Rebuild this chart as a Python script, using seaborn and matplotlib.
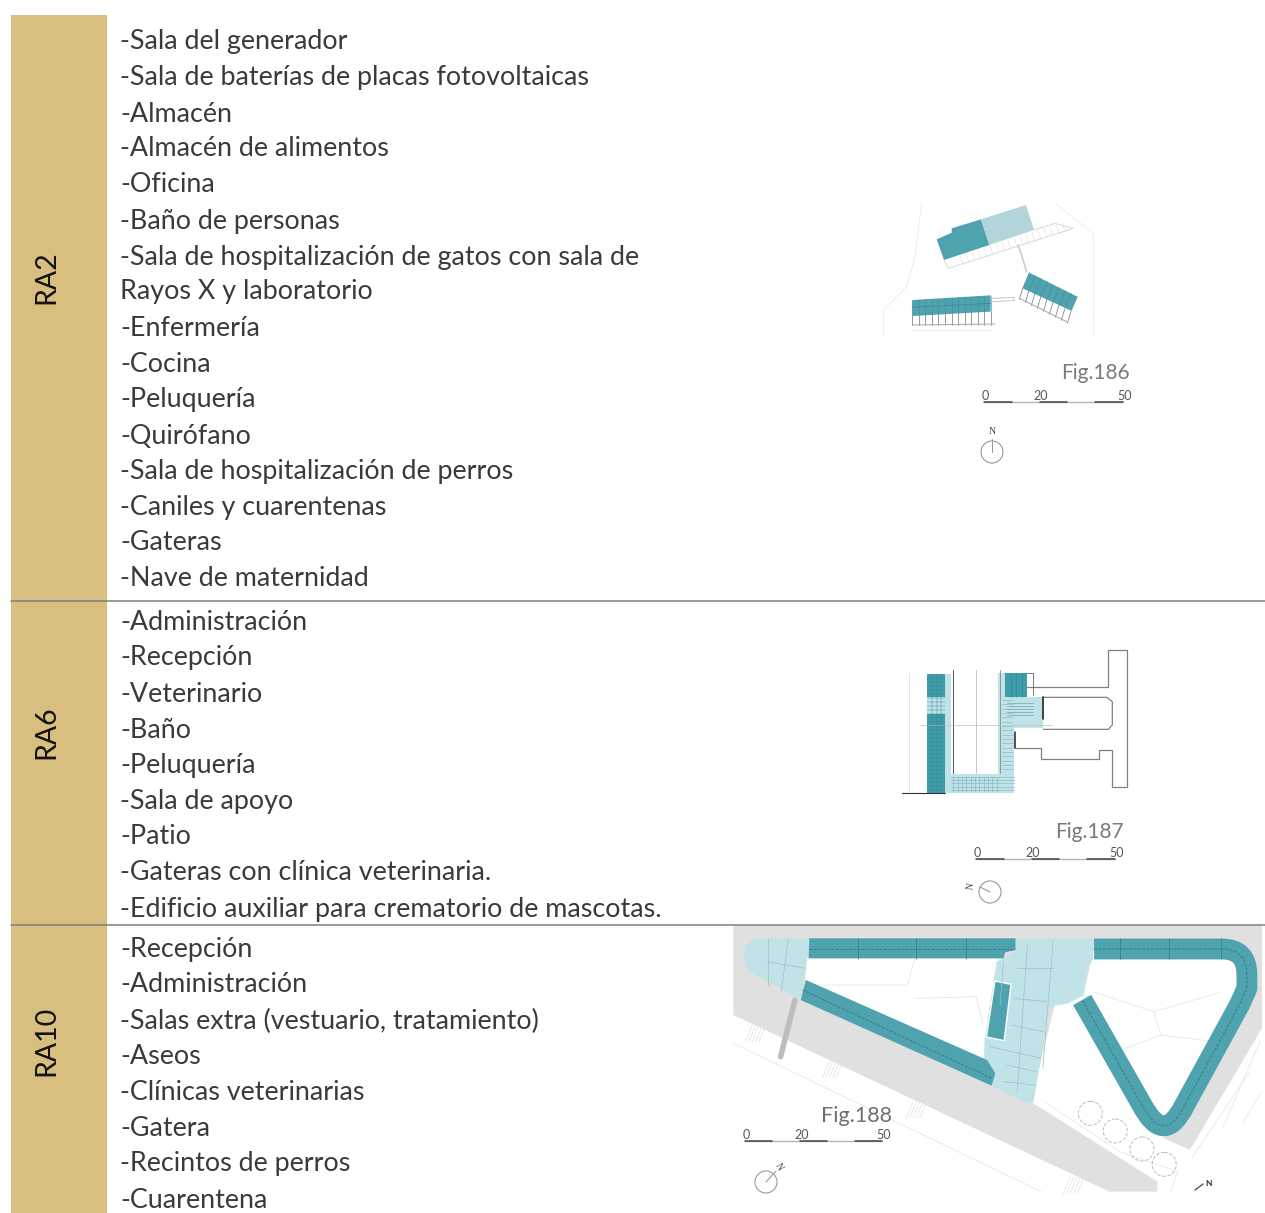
import matplotlib
matplotlib.use('Agg')
import matplotlib.pyplot as plt
import seaborn as sns
import pandas as pd
from matplotlib.patches import Polygon, Circle, Rectangle, PathPatch
from matplotlib.path import Path

# filas de la tabla
row_labels = ['RA2', 'RA6', 'RA10']
ra2_items = ['-Sala del generador', '-Sala de baterías de placas fotovoltaicas', '-Almacén',
             '-Almacén de alimentos', '-Oficina', '-Baño de personas',
             '-Sala de hospitalización de gatos con sala de', 'Rayos X y laboratorio',
             '-Enfermería', '-Cocina', '-Peluquería', '-Quirófano',
             '-Sala de hospitalización de perros', '-Caniles y cuarentenas', '-Gateras',
             '-Nave de maternidad']
ra6_items = ['-Administración', '-Recepción', '-Veterinario', '-Baño', '-Peluquería',
             '-Sala de apoyo', '-Patio', '-Gateras con clínica veterinaria.',
             '-Edificio auxiliar para crematorio de mascotas.']
ra10_items = ['-Recepción', '-Administración', '-Salas extra (vestuario, tratamiento)', '-Aseos',
              '-Clínicas veterinarias', '-Gatera', '-Recintos de perros', '-Cuarentena']
fig_labels = ['Fig.186', 'Fig.187', 'Fig.188']
scale_labels = ['0', '20', '50']

TAN = '#D8BF7F'
TEAL = '#4FA3AE'
LIGHT = '#BFE3E7'
PALE = '#B2D5DA'
GREY = '#E0E0E0'
LINE = '#D2D2D2'

sns.set_theme(style='white')
plt.rcParams['font.family'] = ['Lato', 'DejaVu Sans']

fig = plt.figure(figsize=(12.65, 12.13), dpi=100)
ax = fig.add_axes([0, 0, 1, 1])
ax.set_xlim(0, 1265)
ax.set_ylim(1213, 0)
ax.axis('off')


def to_px(org, pts):
    # las coordenadas de los planos estan medidas en el recorte ampliado
    k = 2.925 if org[0] == 730 else 3.0
    return [(org[0] + x / k, org[1] + y / 3) for x, y in pts]


def poly(org, pts, color, z=2, **kw):
    ax.add_patch(Polygon(to_px(org, pts), closed=True, fc=color, zorder=z, **{'ec': 'none', **kw}))


def line(org, pts, color=LINE, lw=0.6, z=3, **kw):
    xy = to_px(org, pts)
    ax.plot([p[0] for p in xy], [p[1] for p in xy], color=color, lw=lw, zorder=z, **kw)


def scale_bar(x0, x1, y):
    step = (x1 - x0) / 5
    ax.plot([x0, x1], [y, y], color='#B5B5B5', lw=1, zorder=4)
    for i in (0, 2, 4):
        ax.plot([x0 + i * step, x0 + (i + 1) * step], [y, y], color='#444444', lw=1.1, zorder=5)
    for lab, pos in zip(scale_labels, (x0 + 1, x0 + 0.41 * (x1 - x0), x1 + 2)):
        ax.text(pos, y - 6, lab, fontsize=9, color='#555555', ha='center', va='center')


# columna de color y filas
ax.add_patch(Rectangle((11, 15), 96, 1198, fc=TAN, ec='none', zorder=1))
rules = pd.DataFrame({'x': [11, 1265, 11, 1265], 'y': [601, 601, 925, 925], 'r': [0, 0, 1, 1]})
sns.lineplot(data=rules, x='x', y='y', units='r', estimator=None, color='#7F7F7F', lw=1.1,
             ax=ax, zorder=6, legend=False)
ax.set_xlim(0, 1265)
ax.set_ylim(1213, 0)
ax.axis('off')

for lab, yc in zip(row_labels, (277, 732, 1041)):
    ax.text(46, yc, lab, rotation=90, fontsize=20.5, color='#111111', ha='center', va='center', zorder=7)

for items, ys in ((ra2_items, [40, 76, 112, 147, 183, 219, 255, 290, 326, 362, 398, 434, 470, 505, 541, 577]),
                  (ra6_items, [621, 656, 692, 728, 764, 800, 835, 871, 907]),
                  (ra10_items, [947, 983, 1019, 1055, 1091, 1126, 1162, 1198])):
    for t, y in zip(items, ys):
        ax.text(120, y + 2, t, fontsize=19.4, color='#3A3A3A', ha='left', va='center', zorder=7)

# Fig.186
o = (870, 190)
poly(o, [(200, 148), (245, 128), (245, 115), (333, 88), (358, 165), (222, 210)], TEAL)
poly(o, [(333, 88), (468, 45), (492, 120), (358, 165)], PALE)
poly(o, [(127, 330), (362, 316), (362, 365), (127, 378)], TEAL)
poly(o, [(478, 248), (622, 320), (603, 362), (458, 295)], TEAL)
for i in range(13):
    x = 127 + i * 19.6
    line(o, [(x, 378 - i * 1.1), (x, 405)], '#8A8A8A', 0.6)
    line(o, [(x, 330 - i * 1.1), (x, 378 - i * 1.1)], '#3F8C98', 0.4)
line(o, [(127, 405), (375, 402)], '#A5A5A5', 0.7)
line(o, [(127, 352), (362, 340)], '#3F8C98', 0.6)
for i in range(9):
    x0, y0 = 478 + i * 18, 248 + i * 9
    line(o, [(x0, y0), (x0 - 20, y0 + 47)], '#3F8C98', 0.4)
    line(o, [(x0 - 20, y0 + 47), (x0 - 30, y0 + 80)], '#8A8A8A', 0.6)
line(o, [(448, 325), (590, 395)], '#A5A5A5', 0.7)
line(o, [(222, 210), (235, 235), (610, 115), (555, 100), (492, 120)], LINE, 0.6)
for i in range(18):
    x0 = 270 + i * 18
    y0 = 197 - i * 5.8
    line(o, [(x0, y0), (x0 + 10, y0 + 28)], '#E2E2E2', 0.5)
line(o, [(155, 40), (135, 200), (110, 290), (40, 360), (40, 440)], '#EBEBEB', 0.6)
line(o, [(555, 40), (670, 130), (670, 440)], '#EBEBEB', 0.6)
line(o, [(365, 325), (432, 322), (432, 332), (365, 335)], '#C5C5C5', 0.7)
line(o, [(445, 165), (470, 245)], '#CCCCCC', 1.2)
line(o, [(127, 420), (370, 420)], '#EBEBEB', 0.6)
ax.text(1130, 373, fig_labels[0], fontsize=15, color='#7A7A7A', ha='right', va='center', zorder=7)
scale_bar(984, 1123, 402)
ax.text(992, 432, 'N', fontsize=7, family='Liberation Serif', color='#444444', ha='center', va='center')
ax.add_patch(Circle((992, 452), 11, fc='none', ec='#999999', lw=0.8))
ax.plot([992, 992], [439, 452], color='#999999', lw=0.8)

# Fig.187
o = (890, 640)
poly(o, [(110, 172), (183, 172), (183, 222), (110, 222)], LIGHT)
poly(o, [(165, 102), (183, 102), (183, 458), (165, 458)], LIGHT)
poly(o, [(183, 402), (372, 402), (372, 458), (183, 458)], LIGHT)
poly(o, [(325, 100), (372, 100), (372, 458), (325, 458)], LIGHT)
poly(o, [(335, 170), (460, 170), (460, 265), (372, 265), (335, 265)], LIGHT)
poly(o, [(110, 102), (165, 102), (165, 172), (110, 172)], '#3E9DA8')
poly(o, [(110, 222), (165, 222), (165, 458), (110, 458)], '#3E9DA8')
poly(o, [(345, 100), (410, 100), (410, 170), (345, 170)], '#3E9DA8')
line(o, [(410, 142), (655, 142), (655, 30), (712, 30), (712, 440), (667, 440), (667, 330), (627, 330),
         (627, 357), (452, 357), (452, 325), (375, 325)], '#808080', 0.9)
line(o, [(460, 172), (650, 172), (667, 185), (667, 255), (655, 268), (460, 268)], '#808080', 0.9)
line(o, [(460, 172), (460, 238)], '#222222', 1.2)
line(o, [(375, 275), (375, 325)], '#222222', 1.1)
line(o, [(188, 90), (188, 400)], '#555555', 0.7)
line(o, [(330, 90), (330, 400)], '#888888', 0.6)
line(o, [(257, 90), (257, 400)], '#B0B0B0', 0.5)
line(o, [(90, 255), (485, 255)], '#C0C0C0', 0.5)
line(o, [(35, 458), (165, 458)], '#333333', 0.8)
line(o, [(57, 100), (57, 458)], '#D0D0D0', 0.4)
line(o, [(410, 100), (430, 100), (430, 165)], '#666666', 0.6)
for y in range(115, 458, 12):
    line(o, [(110, y), (165, y)], '#2E8490', 0.3)
for x in (125, 140, 152):
    line(o, [(x, 102), (x, 458)], '#2E8490', 0.3)
for x in (362, 378, 395):
    line(o, [(x, 100), (x, 170)], '#2E8490', 0.4)
for y in range(410, 458, 10):
    line(o, [(183, y), (372, y)], '#7FB2B8', 0.4)
for x in range(190, 325, 13):
    line(o, [(x, 412), (x, 455)], '#7FB2B8', 0.4)
for y in range(180, 400, 13):
    line(o, [(335, y), (368, y)], '#7FB2B8', 0.4)
for y in range(190, 235, 9):
    line(o, [(350, y), (430, y)], '#6FA6AD', 0.5)
ax.text(1124, 832, fig_labels[1], fontsize=15, color='#7A7A7A', ha='right', va='center', zorder=7)
scale_bar(976, 1115, 859)
ax.add_patch(Circle((990, 892), 11, fc='none', ec='#999999', lw=0.8))
ax.plot([990, 980], [892, 887], color='#999999', lw=0.8)
ax.text(971, 886, 'N', fontsize=7, family='Liberation Serif', rotation=80, color='#444444', ha='center', va='center')

# Fig.188
o = (730, 925)
poly(o, [(10, 0), (1556, 0), (1556, 310), (1345, 675), (1270, 640), (1040, 210), (950, 240), (880, 530),
         (1250, 770), (1250, 800), (1110, 800), (10, 270)], GREY)
poly(o, [(225, 100), (835, 100), (760, 440), (220, 165)], 'white', z=2.1)
# centro y extremo izquierdo en azul claro
poly(o, [(75, 40), (235, 40), (207, 222), (50, 135), (40, 100), (48, 58)], LIGHT, z=2.2)
poly(o, [(835, 40), (1090, 40), (1062, 60), (1062, 100), (1042, 140), (1035, 210), (990, 235), (935, 245),
         (888, 530), (870, 535), (740, 470), (745, 340), (780, 110), (835, 80)], LIGHT, z=2.2)
poly(o, [(232, 40), (835, 40), (835, 75), (805, 82), (800, 100), (230, 100)], TEAL, z=2.3)
poly(o, [(222, 165), (752, 405), (776, 445), (765, 482), (207, 225)], TEAL, z=2.3)
poly(o, [(775, 168), (822, 178), (802, 347), (750, 336)], TEAL, z=2.3, ec='white', lw=1)

# banda del triangulo con curvas
verts = [(1065, 72), (1440, 72), (1512, 72), (1512, 150), (1512, 190), (1490, 240), (1330, 540),
         (1270, 665), (1205, 540), (1030, 225)]
codes = [Path.MOVETO, Path.LINETO, Path.CURVE3, Path.CURVE3, Path.LINETO, Path.LINETO, Path.LINETO,
         Path.CURVE3, Path.CURVE3, Path.LINETO]
px = to_px(o, verts)
ax.add_patch(PathPatch(Path(px, codes), fc='white', ec='none', zorder=2.15))
ax.add_patch(PathPatch(Path(px, codes), fc='none', ec=TEAL, lw=15, capstyle='butt', joinstyle='round', zorder=2.3))
ax.add_patch(PathPatch(Path(px, codes), fc='none', ec='#2F7F8B', lw=0.7, ls=(0, (3, 1.5)), zorder=2.4))
line(o, [(232, 72), (835, 72)], '#2F7F8B', 0.7, z=2.4, ls=(0, (3, 1.5)))
line(o, [(212, 195), (770, 462)], '#2F7F8B', 0.7, z=2.4, ls=(0, (3, 1.5)))
for x in (375, 545, 690, 1140, 1285, 1435):
    line(o, [(x, 40), (x, 102)], '#2F7F8B', 0.5, z=2.4)

# detalle interior de los bloques claros
for pts in ([(110, 40), (110, 180)], [(170, 40), (150, 200)], [(110, 110), (220, 130)],
            [(800, 110), (790, 240)], [(870, 60), (840, 500)], [(945, 50), (915, 430)],
            [(840, 130), (945, 130)], [(830, 220), (925, 230)], [(825, 300), (915, 320)],
            [(760, 365), (910, 400)], [(810, 420), (895, 440)], [(800, 470), (895, 480)]):
    line(o, pts, '#9CC0C4', 0.5, z=2.4)
line(o, [(190, 225), (148, 395)], '#BDBDBD', 4, z=2.4)
# lineas finas del entorno
for pts in ([(10, 355), (910, 800)], [(230, 180), (520, 180), (540, 100)],
            [(540, 220), (720, 215), (740, 300)], [(1060, 200), (1240, 260), (1440, 200)],
            [(1240, 260), (1260, 330), (1130, 380)], [(1260, 330), (1420, 350)],
            [(1550, 350), (1440, 610)], [(1350, 700), (1520, 440)], [(1500, 590), (1556, 500)],
            [(1290, 800), (1310, 740), (1140, 680), (920, 530)]):
    line(o, pts, '#E8E8E8', 0.6, z=2.2)
for xc, yc in [(1054, 565), (1127, 618), (1205, 672), (1270, 718)]:
    c = to_px(o, [(xc, yc)])[0]
    ax.add_patch(Circle(c, 12, fc='none', ec='#BDBDBD', lw=0.7, ls='--', zorder=3))
for xs in (40, 265, 510, 970):
    for k in range(5):
        x = xs + k * 10
        line(o, [(x + 25, 300 + (xs - 40) * 0.49), (x + 5, 350 + (xs - 40) * 0.49)], '#E6E6E6', 0.6, z=2.15)
ax.text(892, 1116, fig_labels[2], fontsize=15.5, color='#6E6E6E', ha='right', va='center', zorder=7)
scale_bar(745, 882, 1141)
ax.add_patch(Circle((766, 1182), 11, fc='none', ec='#999999', lw=0.8))
ax.plot([766, 776], [1182, 1171], color='#999999', lw=0.8)
ax.text(779, 1167, 'N', fontsize=7, family='Liberation Serif', rotation=-60, color='#444444', ha='center', va='center')
ax.text(1209, 1184, 'N', fontsize=6, fontweight='bold', color='#333333', ha='center', va='center')
ax.plot([1195, 1203], [1190, 1184], color='#555555', lw=1)

fig.savefig('out.png', dpi=100)
